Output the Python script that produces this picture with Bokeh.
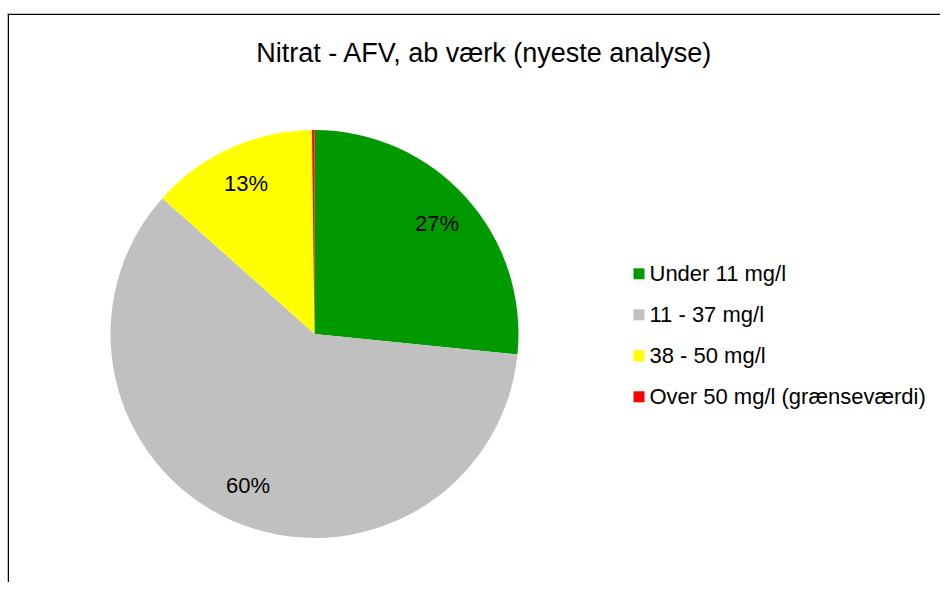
import numpy as np
from bokeh.plotting import figure
from bokeh.models import Range1d, Span, ColumnDataSource
from bokeh.core.properties import value
from bokeh.embed import file_html
from bokeh.resources import INLINE

# ---- data ----
title = "Nitrat - AFV, ab værk (nyeste analyse)"
categories = ["Under 11 mg/l", "11 - 37 mg/l", "38 - 50 mg/l", "Over 50 mg/l (grænseværdi)"]
shares = [26.6, 60.0, 13.2, 0.2]
colors = ["#009900", "#C0C0C0", "#FFFF00", "#FF0000"]

FONT = "Liberation Sans"

# ---- layout: x = screen x, y = 582 - screen y ----
W, H = 940, 582
LEFT, TOP = 7, 13
p = figure(width=W, height=H, output_backend="svg", toolbar_location=None,
           x_range=Range1d(LEFT, W), y_range=Range1d(0, H - TOP),
           x_axis_location=None, y_axis_location=None,
           min_border_left=LEFT, min_border_right=0, min_border_bottom=0, min_border_top=TOP)
p.grid.visible = False
p.outline_line_color = None
p.background_fill_color = "white"
p.border_fill_color = "white"


def Y(s):
    return H - s


# chart area border (top and left edges visible)
p.add_layout(Span(location=Y(TOP) - 0.75, dimension="width", line_color="black", line_width=1.5))
p.add_layout(Span(location=LEFT + 0.75, dimension="height", line_color="black", line_width=1.5))

# ---- pie ----
cx, cy, r = 314, Y(333.5), 204
vals = np.array(shares, dtype=float)
frac = vals / vals.sum()
cum = np.concatenate([[0], np.cumsum(frac)])
start = np.pi / 2 - 2 * np.pi * cum[:-1]
end = np.pi / 2 - 2 * np.pi * cum[1:]
src = ColumnDataSource(dict(start=start, end=end, color=colors, cat=categories))
p.wedge(x=cx, y=cy, radius=r, start_angle="start", end_angle="end", direction="clock",
        fill_color="color", line_color=None, source=src)

# percentage labels
mid = (start + end) / 2
pct = np.round(frac * 100).astype(int)
show = pct >= 1
lr = 0.81 * r
lab = ColumnDataSource(dict(x=cx + lr * np.cos(mid[show]), y=cy + lr * np.sin(mid[show]),
                            t=[f"{v}%" for v in pct[show]]))
p.text(x="x", y="y", text="t", source=lab, text_font=value(FONT), text_font_size="22px",
       text_align="center", text_baseline="middle", text_color="black")

# title
p.text(x=[484], y=[Y(52)], text=[title], text_font=value(FONT), text_font_size="27px",
       text_align="center", text_baseline="middle", text_color="black")

# legend (manual)
n = len(categories)
ly = Y(273.3 + 41.0 * np.arange(n))
p.scatter(x=[638.5] * n, y=ly, marker="square", size=11, fill_color=colors, line_color=None)
p.text(x=[649] * n, y=ly, text=categories, text_font=value(FONT), text_font_size="22px",
       text_align="left", text_baseline="middle", text_color="black")

open("out.html", "w").write(file_html(p, INLINE))
